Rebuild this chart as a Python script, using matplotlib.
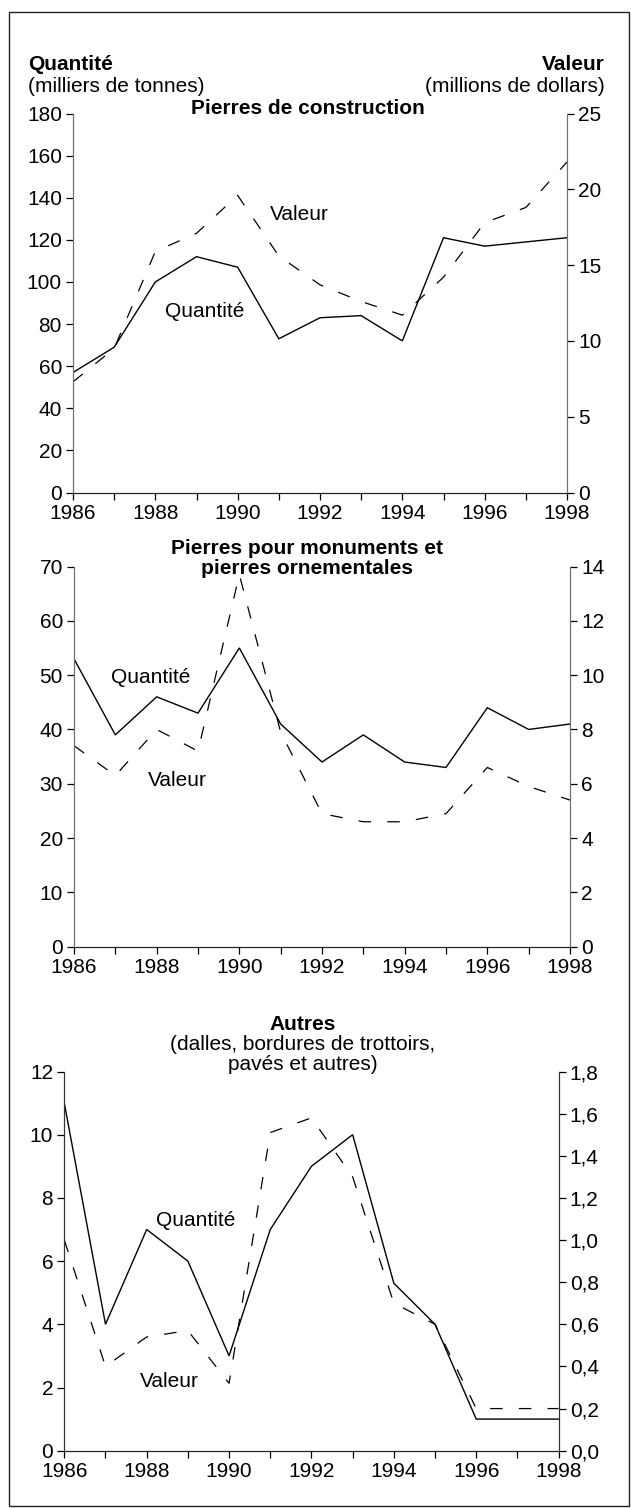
import matplotlib.pyplot as plt
from matplotlib.patches import Rectangle

plt.rcParams["font.family"] = ["Liberation Sans", "DejaVu Sans"]

W, H = 631, 1508

years = list(range(1986, 1999))
year_labels = [str(y) if y % 2 == 0 else "" for y in years]

# Pierres de construction
construction_quantite = [57, 69, 100, 112, 107, 73, 83, 84, 72, 121, 117, 119, 121]
construction_valeur = [7.3, 9.5, 15.9, 17.1, 19.6, 15.6, 13.7, 12.6, 11.7, 14.2, 17.8, 18.8, 21.8]

# Pierres pour monuments et pierres ornementales
monuments_quantite = [53, 39, 46, 43, 55, 41, 34, 39, 34, 33, 44, 40, 41]
monuments_valeur = [7.4, 6.3, 8.0, 7.2, 13.7, 7.9, 4.9, 4.6, 4.6, 4.9, 6.6, 5.9, 5.4]

# Autres
autres_quantite = [11, 4, 7, 6, 3, 7, 9, 10, 5.3, 4, 1, 1, 1]
autres_valeur = [1.0, 0.40, 0.54, 0.57, 0.32, 1.51, 1.58, 1.30, 0.70, 0.60, 0.20, 0.20, 0.20]

left_ticks = [list(range(0, 181, 20)), list(range(0, 71, 10)), list(range(0, 13, 2))]
right_ticks = [list(range(0, 26, 5)), list(range(0, 15, 2)), [i / 10 for i in range(0, 19, 2)]]
right_labels = [
    [str(v) for v in right_ticks[0]],
    [str(v) for v in right_ticks[1]],
    [f"{v:.1f}".replace(".", ",") for v in right_ticks[2]],
]

FS = 15


def fx(x):
    return x / W


def fy(y):
    return 1 - y / H


def make_panel(fig, box, quantite, valeur, lt, rt, rl, q_pos, v_pos, spine_col):
    x0, y0, x1, y1 = box
    ax = fig.add_axes([fx(x0), fy(y1), (x1 - x0) / W, (y1 - y0) / H])
    ax2 = ax.twinx()
    ax.plot(years, quantite, color="black", linewidth=1.0, solid_joinstyle="miter")
    ax2.plot(years, valeur, color="black", linewidth=0.9, dashes=(10, 13))
    ax.set_xlim(1986, 1998)
    ax.set_ylim(lt[0], lt[-1])
    ax2.set_ylim(rt[0], rt[-1])
    ax.set_xticks(years)
    ax.set_xticklabels(year_labels)
    ax.set_yticks(lt)
    ax2.set_yticks(rt)
    ax2.set_yticklabels(rl)
    for a in (ax, ax2):
        a.spines["top"].set_visible(False)
        a.tick_params(labelsize=FS, length=5, width=0.9, direction="out", pad=3)
        a.spines["left"].set_color(spine_col)
        a.spines["right"].set_color(spine_col)
        a.spines["bottom"].set_color("#222222")
    ax.text(q_pos[0], q_pos[1], "Quantité", fontsize=FS, ha="center", va="center")
    ax.text(v_pos[0], v_pos[1], "Valeur", fontsize=FS, ha="center", va="center")
    return ax


fig = plt.figure(figsize=(W / 100, H / 100), dpi=100)

make_panel(fig, (73, 113.5, 567, 492.5), construction_quantite, construction_valeur,
           left_ticks[0], right_ticks[0], right_labels[0],
           (1989.2, 86), (1991.5, 132), "#707070")
make_panel(fig, (74, 566.5, 570, 946.7), monuments_quantite, monuments_valeur,
           left_ticks[1], right_ticks[1], right_labels[1],
           (1987.85, 49.6), (1988.5, 30.6), "#707070")
make_panel(fig, (64.3, 1071.5, 558.6, 1450.7), autres_quantite, autres_valeur,
           left_ticks[2], right_ticks[2], right_labels[2],
           (1989.2, 7.3), (1988.55, 2.2), "#333333")

# Titres et en-têtes
fig.text(fx(28), fy(65), "Quantité", fontsize=FS, fontweight="bold", ha="left", va="center")
fig.text(fx(28), fy(86), "(milliers de tonnes)", fontsize=FS, ha="left", va="center")
fig.text(fx(605), fy(65), "Valeur", fontsize=FS, fontweight="bold", ha="right", va="center")
fig.text(fx(605), fy(86), "(millions de dollars)", fontsize=FS, ha="right", va="center")

fig.text(fx(308), fy(108), "Pierres de construction", fontsize=FS, fontweight="bold",
         ha="center", va="center")
fig.text(fx(307), fy(549), "Pierres pour monuments et", fontsize=FS, fontweight="bold",
         ha="center", va="center")
fig.text(fx(307), fy(569), "pierres ornementales", fontsize=FS, fontweight="bold",
         ha="center", va="center")
fig.text(fx(303), fy(1025), "Autres", fontsize=FS, fontweight="bold", ha="center", va="center")
fig.text(fx(303), fy(1045), "(dalles, bordures de trottoirs,", fontsize=FS, ha="center", va="center")
fig.text(fx(303), fy(1065), "pavés et autres)", fontsize=FS, ha="center", va="center")

# Cadre
fig.patches.append(Rectangle((fx(8.5), fy(1506)), (629 - 8.5) / W, (1506 - 12) / H,
                             transform=fig.transFigure, fill=False,
                             edgecolor="#222222", linewidth=1.0))

fig.savefig("out.png", dpi=100)
